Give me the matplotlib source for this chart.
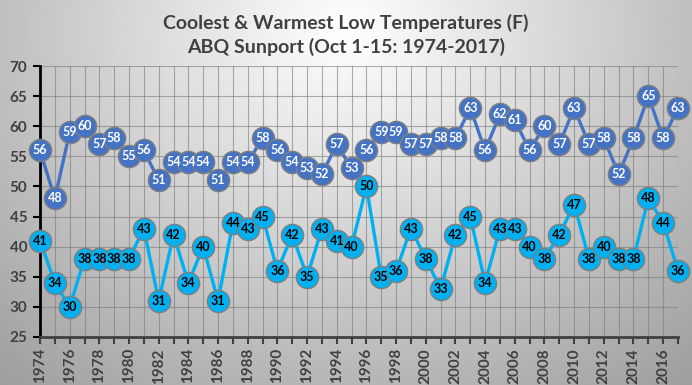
import numpy as np
from matplotlib import pyplot as plt

years = list(range(1974, 2018))

# warmest low temperature, Oct 1-15 (F)
warmest = [56, 48, 59, 60, 57, 58, 55, 56, 51, 54, 54, 54, 51, 54, 54, 58,
           56, 54, 53, 52, 57, 53, 56, 59, 59, 57, 57, 58, 58, 63, 56, 62,
           61, 56, 60, 57, 63, 57, 58, 52, 58, 65, 58, 63]
# coolest low temperature, Oct 1-15 (F)
coolest = [41, 34, 30, 38, 38, 38, 38, 43, 31, 42, 34, 40, 31, 44, 43, 45,
           36, 42, 35, 43, 41, 40, 50, 35, 36, 43, 38, 33, 42, 45, 34, 43,
           43, 40, 38, 42, 47, 38, 40, 38, 38, 48, 44, 36]

y_ticks = list(range(25, 75, 5))
x_labels = [str(y) if y % 2 == 0 else "" for y in years]

FONT = ["Lato", "DejaVu Sans"]
WARM_COLOR = "#4472C4"
COOL_COLOR = "#00B0F0"

fig = plt.figure(figsize=(6.92, 3.85), dpi=100)

# grey radial background
bg = fig.add_axes([0, 0, 1, 1], zorder=-1)
xx, yy = np.meshgrid(np.linspace(0, 692, 346), np.linspace(0, 385, 193))
d = np.sqrt(((xx - 346) / 470.0) ** 2 + ((yy - 30) / 420.0) ** 2)
shade = np.clip(1.0 - 0.34 * d, 0, 1)
bg.imshow(shade, cmap="gray", vmin=0, vmax=1, extent=[0, 692, 385, 0], aspect="auto")
bg.axis("off")

ax = fig.add_axes([40 / 692, 1 - 337 / 385, 638 / 692, 271 / 385])
ax.set_facecolor("none")

ax.plot(years, warmest, color=WARM_COLOR, lw=2.4, marker="o", ms=16,
        mfc=WARM_COLOR, mec="#7f7f7f", mew=1.0, zorder=3, clip_on=False)
ax.plot(years, coolest, color=COOL_COLOR, lw=2.4, marker="o", ms=16,
        mfc=COOL_COLOR, mec="#7f7f7f", mew=1.0, zorder=3, clip_on=False)

for x, w, c in zip(years, warmest, coolest):
    ax.text(x, w, str(w), ha="center", va="center", color="white",
            fontsize=9, fontweight="bold", family=FONT, zorder=4)
    ax.text(x, c, str(c), ha="center", va="center", color="black",
            fontsize=9, fontweight="bold", family=FONT, zorder=4)

ax.set_xlim(1974, 2017)
ax.set_ylim(25, 70)
ax.set_yticks(y_ticks)
ax.set_xticks(years)
ax.set_xticklabels(x_labels, rotation=90)
ax.grid(True, color="#7a7a7a", lw=0.8, alpha=0.6, zorder=0)
ax.set_axisbelow(True)

for s in ["top", "right"]:
    ax.spines[s].set_visible(False)
ax.spines["left"].set_color("black")
ax.spines["left"].set_linewidth(2)
ax.spines["bottom"].set_color("#404040")
ax.spines["bottom"].set_linewidth(2)
ax.tick_params(axis="y", length=5, width=1.5, color="black", pad=4,
               labelsize=11, labelcolor="#404040")
ax.tick_params(axis="x", length=5, width=1.5, color="#404040", pad=3,
               labelsize=11, labelcolor="#404040")
for lab in ax.get_xticklabels() + ax.get_yticklabels():
    lab.set_fontweight("bold")
    lab.set_family(FONT)

fig.text(0.5, 1 - 23 / 385, "Coolest & Warmest Low Temperatures (F)", ha="center",
         va="center", fontsize=14, fontweight="bold", color="#404040", family=FONT)
fig.text(0.5, 1 - 47 / 385, "ABQ Sunport (Oct 1-15: 1974-2017)", ha="center",
         va="center", fontsize=14, fontweight="bold", color="#404040", family=FONT)

fig.savefig("out.png", dpi=100)
